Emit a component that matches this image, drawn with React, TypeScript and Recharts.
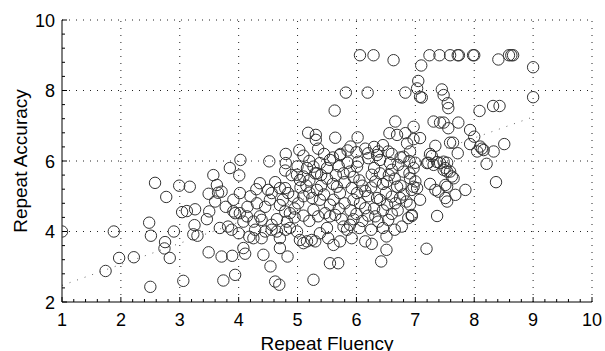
import React from 'react';
import { ScatterChart, Scatter, XAxis, YAxis, ReferenceLine, Label } from 'recharts';

// ---- axis ticks ----
const xTicks = [1, 2, 3, 4, 5, 6, 7, 8, 9, 10];
const yTicks = [2, 4, 6, 8, 10];
const xMinorPerMajor = 5;
const yMinorPerMajor = 5;

// ---- regression (dotted) line ----
const fitFluency = [1, 9];
const fitAccuracy = [2.47, 7.25];

// ---- observations, grouped by region of the plot ----
const fluencyLow = [1.0, 1.88, 1.97, 2.22, 1.74, 2.5, 2.48, 2.51, 2.58, 2.77, 2.75, 2.74, 2.83, 2.9, 2.99, 3.17, 3.06, 3.04, 3.12, 3.26, 3.25, 3.23, 3.3, 3.46, 3.49, 3.5, 3.49];
const accuracyLow = [4.0, 4.0, 3.25, 3.27, 2.88, 2.43, 4.25, 3.88, 5.38, 4.98, 3.7, 3.52, 3.25, 4.0, 5.3, 5.27, 2.6, 4.55, 4.58, 4.63, 4.18, 3.92, 3.88, 4.35, 5.07, 4.57, 3.41];

const fluencyMidLeft = [3.63, 3.65, 3.71, 3.6, 3.91, 4.02, 3.68, 3.82, 3.88, 3.94, 3.91, 4.02, 4.14, 4.08, 4.36, 4.5, 4.56, 4.53, 4.7, 4.31, 4.25, 4.28, 4.25, 4.36, 4.39, 4.56, 4.56, 4.39, 4.7, 3.71, 3.89, 4.08, 4.11, 4.42, 4.7, 4.83, 4.54, 3.74, 3.94, 4.62, 4.69, 5.27, 4.79, 4.87, 4.82, 4.87, 4.99, 5.04, 5.1, 5.16, 5.24, 5.01, 4.93, 4.84, 4.79, 4.99, 5.04, 5.1, 5.16, 5.27, 5.33];
const accuracyMidLeft = [5.32, 5.1, 5.13, 4.85, 4.9, 5.09, 4.1, 4.14, 4.05, 4.52, 4.57, 4.52, 4.43, 4.28, 5.37, 5.18, 5.09, 4.9, 5.23, 4.8, 4.28, 4.05, 3.81, 4.43, 4.33, 4.19, 4.05, 3.81, 3.81, 3.29, 3.31, 3.53, 3.37, 3.34, 3.53, 3.29, 3.01, 2.61, 2.77, 2.58, 2.49, 2.63, 4.57, 4.52, 4.28, 4.1, 4.0, 3.76, 3.67, 3.72, 3.76, 4.8, 4.99, 5.09, 5.23, 5.61, 5.46, 5.56, 5.8, 5.84, 5.65];

const fluencyTop = [6.06, 6.29, 6.63, 7.24, 7.41, 7.59, 7.72, 7.74, 7.98, 8.0, 8.41, 8.59, 8.63, 8.66, 9.0, 9.0, 7.1, 7.05, 7.03, 7.08, 7.11, 6.83, 7.45, 7.48, 7.55, 7.56, 8.09, 8.32, 8.43];
const accuracyTop = [9.0, 9.0, 8.86, 9.0, 9.0, 9.0, 9.0, 9.0, 9.0, 9.0, 8.88, 9.0, 9.0, 9.0, 8.66, 7.81, 8.71, 8.27, 8.06, 7.82, 7.8, 7.94, 8.03, 7.87, 7.64, 7.5, 7.42, 7.56, 7.56];

const fluencyUpperMid = [5.82, 6.19, 5.63, 5.18, 5.31, 5.31, 5.64, 6.02, 5.9, 5.73, 5.03, 4.8, 4.8, 4.52, 3.85, 4.01, 4.79, 5.55, 6.03, 6.2, 6.37, 6.54, 6.69, 6.66, 6.56];
const accuracyUpperMid = [7.94, 7.94, 7.43, 6.8, 6.74, 6.6, 6.66, 6.67, 6.41, 6.2, 6.31, 6.2, 5.94, 5.99, 5.8, 5.59, 5.73, 6.03, 5.98, 6.22, 6.27, 6.27, 6.74, 7.12, 6.79];

const fluencyUpperRight = [7.31, 7.42, 7.48, 7.73, 7.56, 7.93, 8.0, 6.97, 6.83, 7.08, 6.86, 7.59, 7.34, 7.93, 8.1, 8.16, 8.33, 8.51, 7.72, 8.05, 8.21, 7.25, 7.2, 7.31, 7.42, 7.51, 6.97, 6.8, 6.91];
const accuracyUpperRight = [7.12, 7.09, 7.09, 7.09, 6.93, 6.88, 6.69, 6.97, 6.79, 6.65, 6.5, 6.52, 6.43, 6.48, 6.41, 6.31, 6.27, 6.48, 6.22, 6.27, 5.92, 6.2, 5.94, 5.89, 5.94, 5.8, 5.8, 6.12, 6.27];

const fluencyRight = [7.64, 8.13, 7.28, 7.22, 7.37, 7.48, 7.54, 7.48, 7.54, 7.59, 7.62, 8.37, 7.85, 7.65, 7.51, 7.54, 7.34, 7.39, 7.68, 7.51, 7.54, 7.08, 6.97, 7.0, 6.91, 6.94, 7.37, 7.19, 6.97];
const accuracyRight = [6.52, 6.35, 6.14, 5.95, 5.97, 5.98, 5.95, 5.75, 5.7, 5.7, 5.56, 5.4, 5.18, 5.51, 5.32, 5.27, 5.18, 5.13, 5.04, 4.95, 4.85, 4.9, 5.27, 5.42, 4.76, 4.44, 4.44, 3.51, 6.62];

const fluencyCore = [5.72, 6.2, 6.35, 6.4, 6.57, 6.71, 5.38, 5.5, 5.3, 5.78, 5.89, 6.01, 6.26, 6.4, 6.32, 6.8, 6.91, 7.03, 6.94, 6.52, 6.69, 6.6, 5.92, 6.01, 5.95, 6.06, 6.15, 5.67, 5.72, 5.61, 5.55, 5.33, 5.38, 5.27, 5.35, 5.47, 5.55, 5.64, 6.4, 6.52, 6.66, 6.74, 6.32, 6.37, 6.54, 6.77, 6.88, 6.94, 5.78, 5.89, 5.84, 5.38, 5.3, 5.52, 5.61, 5.72, 5.92, 6.15, 6.26, 6.51, 6.51, 6.42, 5.55, 5.69];
const accuracyCore = [6.17, 6.08, 6.17, 6.03, 5.94, 5.89, 5.94, 5.8, 5.65, 5.65, 5.7, 5.84, 5.61, 5.65, 5.42, 5.7, 5.51, 5.23, 5.18, 5.42, 5.27, 4.99, 5.23, 5.09, 4.9, 4.8, 4.66, 5.27, 5.09, 4.9, 4.76, 5.18, 4.9, 4.61, 4.43, 4.52, 4.43, 4.47, 4.9, 4.76, 4.8, 4.95, 4.43, 4.28, 4.33, 4.14, 4.38, 4.47, 4.14, 4.19, 4.05, 3.95, 3.72, 3.81, 3.62, 3.72, 3.81, 3.72, 3.65, 3.86, 3.48, 3.15, 3.1, 3.1];

const fluencyDense = [5.1, 5.15, 5.2, 5.25, 5.4, 5.45, 5.5, 5.6, 5.65, 5.7, 5.8, 5.85, 5.95, 6.05, 6.1, 6.15, 6.2, 6.25, 6.3, 6.45, 6.5, 6.55, 6.6, 6.65, 6.75, 6.8, 6.85, 6.7, 6.6, 6.45, 6.3, 6.2, 6.1, 6.0, 5.9, 5.8, 5.7, 5.95, 6.05, 6.25, 6.45, 6.65, 7.25, 7.0, 6.9, 6.75, 6.6, 6.45, 6.3, 6.15, 6.0, 5.85, 5.6, 5.45, 5.35, 5.2, 5.1, 5.0, 4.9, 5.2, 5.4, 6.35, 6.9, 5.75, 5.5, 5.2, 5.1, 4.95, 4.7, 4.8, 4.65, 4.45, 3.78, 4.15, 4.2, 4.45, 4.65, 4.75, 4.95, 5.05, 4.62, 4.3, 4.0, 4.18, 3.57, 4.03];
const accuracyDense = [5.0, 5.3, 5.1, 4.95, 5.3, 5.05, 5.5, 5.35, 5.6, 5.85, 5.4, 5.95, 5.55, 5.45, 5.3, 5.15, 5.0, 5.25, 5.8, 5.35, 5.1, 5.6, 5.75, 5.5, 5.3, 5.05, 4.85, 4.6, 4.5, 4.6, 4.65, 4.45, 4.3, 4.5, 4.6, 4.8, 4.65, 4.35, 4.1, 4.05, 4.1, 4.05, 5.35, 5.95, 6.0, 6.1, 6.2, 6.45, 6.4, 6.35, 6.25, 6.3, 6.1, 6.2, 6.35, 6.0, 6.15, 5.85, 5.6, 5.45, 5.6, 4.95, 5.65, 4.35, 4.1, 4.3, 4.45, 4.65, 4.75, 4.05, 4.0, 4.0, 4.7, 4.7, 5.0, 4.7, 4.35, 4.9, 4.4, 5.25, 5.4, 5.2, 3.95, 3.85, 5.6, 6.03];

const fluency = [...fluencyLow, ...fluencyMidLeft, ...fluencyTop, ...fluencyUpperMid, ...fluencyUpperRight, ...fluencyRight, ...fluencyCore, ...fluencyDense];
const accuracy = [...accuracyLow, ...accuracyMidLeft, ...accuracyTop, ...accuracyUpperMid, ...accuracyUpperRight, ...accuracyRight, ...accuracyCore, ...accuracyDense];

const points = fluency.map((x, i) => ({ x, y: accuracy[i] }));

const withMinors = (majors: number[], n: number) => {
  const out: number[] = [];
  for (let i = 0; i < majors.length - 1; i++) {
    const step = (majors[i + 1] - majors[i]) / n;
    for (let k = 0; k < n; k++) out.push(Math.round((majors[i] + k * step) * 1000) / 1000);
  }
  out.push(majors[majors.length - 1]);
  return out;
};
const xAllTicks = withMinors(xTicks, xMinorPerMajor);
const yAllTicks = withMinors(yTicks, yMinorPerMajor);

const FONT = '"Liberation Sans", Arial, Helvetica, sans-serif';
const isMajor = (v: number, majors: number[]) => majors.some((m) => Math.abs(m - v) < 1e-6);

const XTick = (props: any) => {
  const { x, y, payload } = props;
  const major = isMajor(payload.value, xTicks);
  return (
    <g>
      <line x1={x} x2={x} y1={y} y2={y - (major ? 5 : 3)} stroke="#000" strokeWidth={1} />
      {major && (
        <text x={x} y={y + 24} textAnchor="middle" fontSize={18} fontFamily={FONT} fill="#000">
          {payload.value}
        </text>
      )}
    </g>
  );
};

const YTick = (props: any) => {
  const { x, y, payload } = props;
  const major = isMajor(payload.value, yTicks);
  return (
    <g>
      <line x1={x} x2={x + (major ? 5 : 3)} y1={y} y2={y} stroke="#000" strokeWidth={1} />
      {major && (
        <text x={x - 7} y={y + 6.5} textAnchor="end" fontSize={18} fontFamily={FONT} fill="#000">
          {payload.value}
        </text>
      )}
    </g>
  );
};

const Ring = (props: any) => (
  <circle cx={props.cx} cy={props.cy} r={5.7} fill="none" stroke="#333" strokeWidth={1} />
);

export default function App() {
  return (
    <div style={{ position: 'absolute', left: 0, top: 0, width: 605, height: 351, background: '#fff' }}>
      <ScatterChart width={605} height={351} margin={{ top: 20, right: 13, bottom: 0, left: 0 }}>
        <XAxis
          type="number"
          dataKey="x"
          domain={[1, 10]}
          ticks={xAllTicks}
          interval={0}
          height={49}
          tickSize={0}
          tickMargin={0}
          tickLine={false}
          axisLine={{ stroke: '#000', strokeWidth: 1 }}
          tick={<XTick />}
          allowDataOverflow
        >
          <Label value="Repeat Fluency" position="insideBottom" offset={1} style={{ fontSize: 19, fontFamily: FONT, fill: '#000' }} />
        </XAxis>
        <YAxis
          type="number"
          dataKey="y"
          domain={[2, 10]}
          ticks={yAllTicks}
          interval={0}
          width={62}
          tickSize={0}
          tickMargin={0}
          tickLine={false}
          axisLine={{ stroke: '#000', strokeWidth: 1 }}
          tick={<YTick />}
          allowDataOverflow
        >
          <Label value="Repeat Accuracy" position="insideLeft" angle={-90} offset={20} style={{ fontSize: 19, fontFamily: FONT, fill: '#000', textAnchor: 'middle' }} />
        </YAxis>
        {xTicks.slice(1).map((v) => (
          <ReferenceLine key={'gx' + v} x={v} stroke="#222" strokeDasharray="1 6" />
        ))}
        {yTicks.slice(1).map((v) => (
          <ReferenceLine key={'gy' + v} y={v} stroke="#222" strokeDasharray="1 6" />
        ))}
        <ReferenceLine
          segment={[
            { x: fitFluency[0], y: fitAccuracy[0] },
            { x: fitFluency[1], y: fitAccuracy[1] },
          ]}
          stroke="#666"
          strokeDasharray="1 7"
        />
        <Scatter data={points} shape={<Ring />} isAnimationActive={false} />
      </ScatterChart>
    </div>
  );
}
